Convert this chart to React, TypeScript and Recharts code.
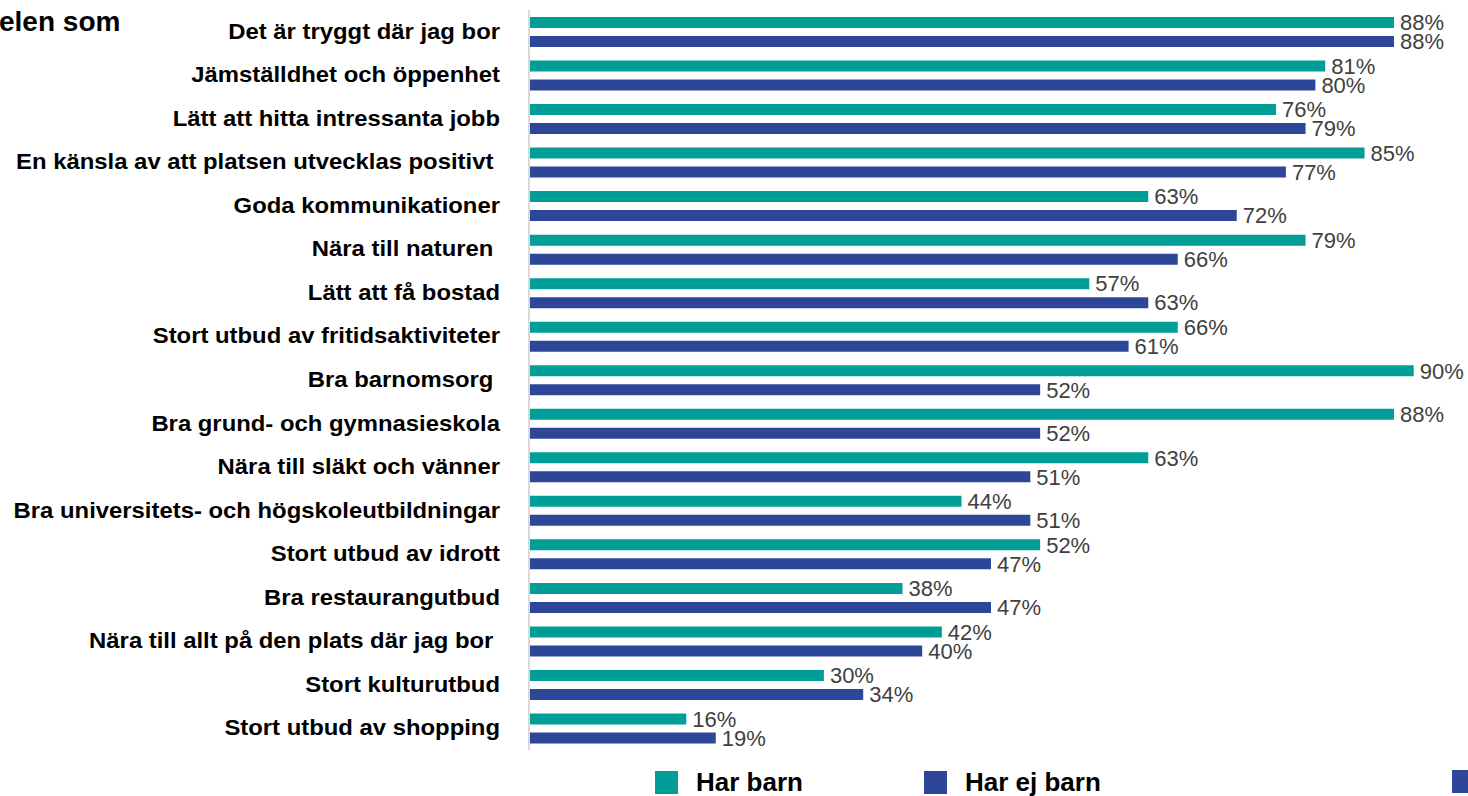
import { BarChart, Bar, XAxis, YAxis, Legend, LabelList } from 'recharts';

const categories = [
  'Det är tryggt där jag bor',
  'Jämställdhet och öppenhet',
  'Lätt att hitta intressanta jobb',
  'En känsla av att platsen utvecklas positivt ',
  'Goda kommunikationer',
  'Nära till naturen ',
  'Lätt att få bostad',
  'Stort utbud av fritidsaktiviteter',
  'Bra barnomsorg ',
  'Bra grund- och gymnasieskola',
  'Nära till släkt och vänner',
  'Bra universitets- och högskoleutbildningar',
  'Stort utbud av idrott',
  'Bra restaurangutbud',
  'Nära till allt på den plats där jag bor ',
  'Stort kulturutbud',
  'Stort utbud av shopping',
];

const harBarn = [88, 81, 76, 85, 63, 79, 57, 66, 90, 88, 63, 44, 52, 38, 42, 30, 16];
const harEjBarn = [88, 80, 79, 77, 72, 66, 63, 61, 52, 52, 51, 51, 47, 47, 40, 34, 19];

const data = categories.map((name, i) => ({ name, harBarn: harBarn[i], harEjBarn: harEjBarn[i] }));

const TEAL = '#009e96';
const BLUE = '#2e4698';
const FONT = '"Liberation Sans", Arial, sans-serif';

function CategoryTick({ x, y, payload }: any) {
  // reference text is slightly wider than plain Arial, so stretch it a bit
  return (
    <text
      transform={`translate(${x},${y}) scale(1.085,1)`}
      dy={7}
      textAnchor="end"
      fill="#000"
      fontSize={22}
      fontWeight="bold"
      fontFamily={FONT}
      style={{ whiteSpace: 'pre' }}
    >
      {payload.value}
    </text>
  );
}

const legendX = [655, 924];

function ChartLegend({ payload }: any) {
  return (
    <div style={{ position: 'relative', height: 36, fontFamily: FONT }}>
      {(payload || []).map((p: any, i: number) => (
        <div key={p.value} style={{ position: 'absolute', left: legendX[i], top: 4, display: 'flex', alignItems: 'center' }}>
          <span style={{ display: 'inline-block', width: 23, height: 23, background: p.color }} />
          <span style={{ marginLeft: 18, fontSize: 26, fontWeight: 'bold', color: '#000', lineHeight: '24px' }}>
            {p.value}
          </span>
        </div>
      ))}
      <span style={{ position: 'absolute', left: 1452, top: 4, width: 24, height: 23, background: BLUE }} />
    </div>
  );
}

export default function App() {
  return (
    <div style={{ position: 'absolute', left: 0, top: 0, width: 1468, height: 796, overflow: 'hidden', background: '#fff' }}>
      <div
        style={{
          position: 'absolute',
          left: -1,
          top: 7,
          fontFamily: FONT,
          fontSize: 28,
          fontWeight: 'bold',
          color: '#000',
          lineHeight: '30px',
          zIndex: 2,
        }}
      >
        elen som
      </div>
      <BarChart
        width={1468}
        height={796}
        data={data}
        layout="vertical"
        margin={{ top: 10, right: 15, bottom: 10, left: 0 }}
        barSize={11}
        barGap={8}
      >
        <XAxis type="number" domain={[0, 94]} hide />
        <YAxis
          type="category"
          dataKey="name"
          width={529}
          tickLine={false}
          tickSize={0}
          tickMargin={29}
          axisLine={{ stroke: '#d9d9d9', strokeWidth: 2 }}
          tick={<CategoryTick />}
          interval={0}
        />
        <Legend
          verticalAlign="bottom"
          height={36}
          content={<ChartLegend />}
          wrapperStyle={{ left: 0, top: 766, bottom: 'auto', width: 1468 }}
        />
        <Bar dataKey="harBarn" name="Har barn" fill={TEAL} isAnimationActive={false}>
          <LabelList
            dataKey="harBarn"
            position="right"
            offset={6}
            formatter={(v: any) => `${v}%`}
            fill="#404040"
            fontSize={22}
            fontFamily={FONT}
          />
        </Bar>
        <Bar dataKey="harEjBarn" name="Har ej barn" fill={BLUE} isAnimationActive={false}>
          <LabelList
            dataKey="harEjBarn"
            position="right"
            offset={6}
            formatter={(v: any) => `${v}%`}
            fill="#404040"
            fontSize={22}
            fontFamily={FONT}
          />
        </Bar>
      </BarChart>
    </div>
  );
}
